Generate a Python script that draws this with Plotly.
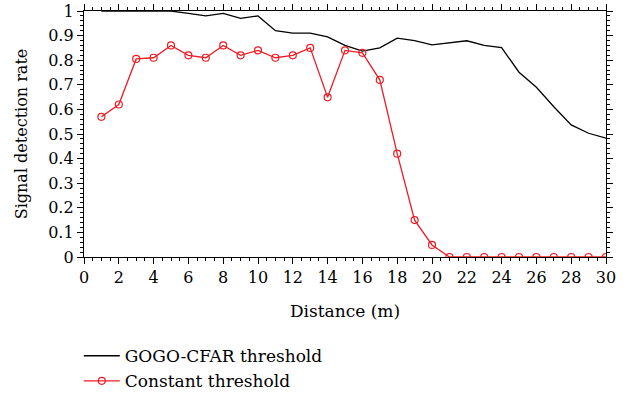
import plotly.graph_objects as go

distance = list(range(1, 31))
gogo_cfar = [1.0, 1.0, 1.0, 1.0, 1.0, 0.99, 0.98, 0.99, 0.97, 0.98,
             0.92, 0.91, 0.91, 0.895, 0.86, 0.837, 0.85, 0.89, 0.88, 0.862,
             0.87, 0.879, 0.86, 0.851, 0.751, 0.69, 0.611, 0.537, 0.503, 0.483]
constant = [0.57, 0.62, 0.805, 0.81, 0.86, 0.82, 0.81, 0.86, 0.82, 0.84,
            0.81, 0.82, 0.85, 0.649, 0.84, 0.83, 0.72, 0.42, 0.15, 0.049,
            0, 0, 0, 0, 0, 0, 0, 0, 0, 0]
x_ticks = list(range(0, 31, 2))
y_ticks = [0, 0.1, 0.2, 0.3, 0.4, 0.5, 0.6, 0.7, 0.8, 0.9, 1]
y_labels = ["0", "0.1", "0.2", "0.3", "0.4", "0.5", "0.6", "0.7", "0.8", "0.9", "1"]

FONT = "DejaVu Serif"

fig = go.Figure()
fig.add_trace(go.Scatter(
    x=distance, y=gogo_cfar, mode="lines", name="GOGO-CFAR threshold",
    line=dict(color="black", width=1.3),
))
fig.add_trace(go.Scatter(
    x=distance, y=constant, mode="lines+markers", name="Constant threshold",
    line=dict(color="#ee1c25", width=1.3),
    marker=dict(symbol="circle-open", size=7, color="#ee1c25", line=dict(width=1.2)),
))

axis_common = dict(
    showline=True, linecolor="black", linewidth=1.3, mirror="ticks",
    ticks="outside", ticklen=6, tickwidth=1.2, tickcolor="black",
    showgrid=False, zeroline=False,
    tickfont=dict(family=FONT, size=16, color="black"),
)

fig.update_xaxes(
    range=[0, 30], tickvals=x_ticks,
    minor=dict(dtick=0.5, ticklen=3, tickwidth=1, tickcolor="black", ticks="outside", showgrid=False),
    title=dict(text="Distance (m)", font=dict(family=FONT, size=17, color="black"), standoff=18),
    **axis_common,
)
fig.update_yaxes(
    range=[0, 1], tickvals=y_ticks, ticktext=y_labels,
    minor=dict(dtick=0.02, ticklen=3, tickwidth=1, tickcolor="black", ticks="outside", showgrid=False),
    title=dict(text="Signal detection rate", font=dict(family=FONT, size=16, color="black"), standoff=16),
    **axis_common,
)

fig.update_layout(
    width=631, height=396,
    margin=dict(l=84, r=25, t=11, b=139, autoexpand=False),
    paper_bgcolor="white", plot_bgcolor="white",
    font=dict(family=FONT, size=16, color="black"),
    showlegend=True,
    legend=dict(
        x=-0.01, y=-0.33, xanchor="left", yanchor="top",
        font=dict(family=FONT, size=17, color="black"),
        bgcolor="rgba(0,0,0,0)", tracegroupgap=0, itemwidth=36,
    ),
)

fig.write_html("out.html")
